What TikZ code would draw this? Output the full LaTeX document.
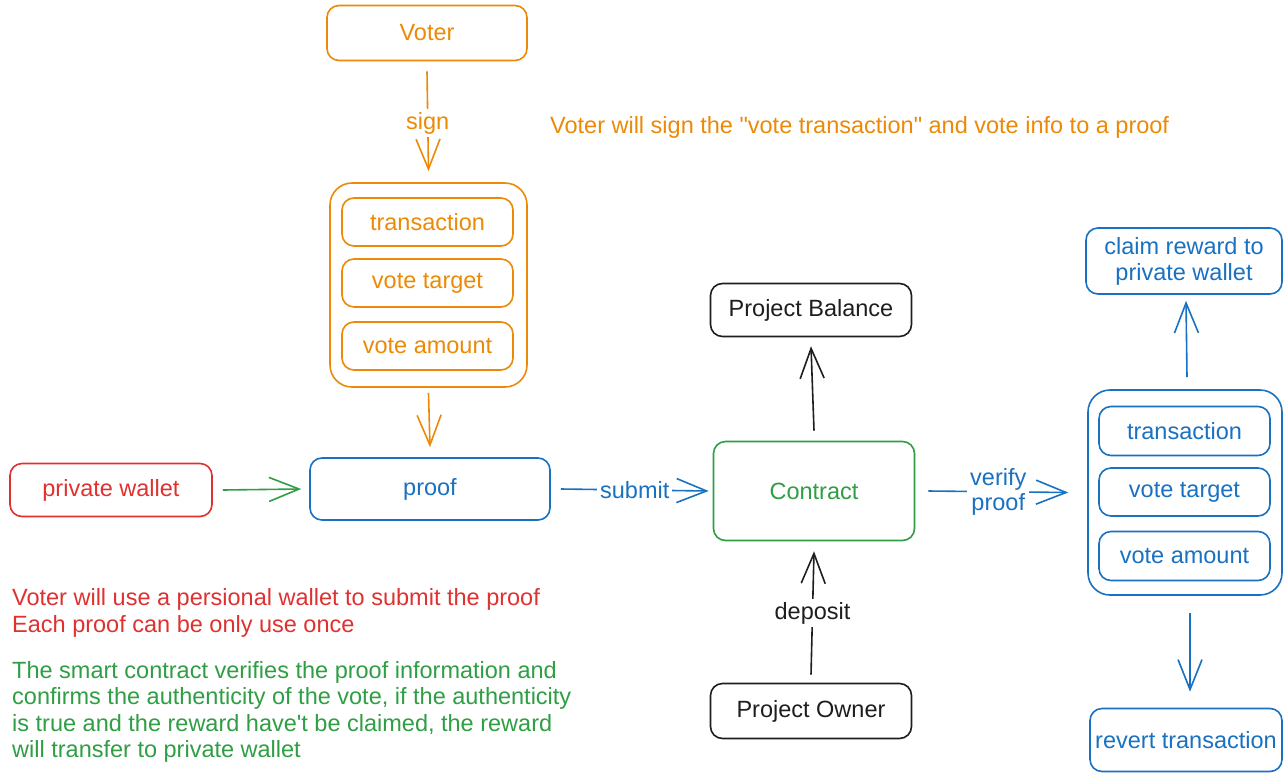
\documentclass[tikz,border=0pt]{standalone}
\usepackage{fontspec}
\setmainfont{Liberation Sans}[Ligatures=TeXOff]
\usetikzlibrary{arrows.meta}
\definecolor{orng}{HTML}{EC8A08}
\definecolor{blu}{HTML}{1971C2}
\definecolor{rd}{HTML}{E03131}
\definecolor{grn}{HTML}{2F9E44}
\definecolor{blk}{HTML}{1E1E1E}
\tikzset{
  box/.style={draw, rounded corners=12pt, line width=1.6pt, inner sep=0pt, align=center,
    font=\fontsize{23.5}{26}\selectfont},
  group/.style={draw, rounded corners=22pt, line width=1.6pt, inner sep=0pt},
  arr/.style={line width=1.6pt, -{Straight Barb[length=30pt,width=24pt,line width=1.6pt]}},
  lbl/.style={fill=white, inner sep=3pt, align=center, font=\fontsize{23.5}{25}\selectfont},
  note/.style={anchor=west, inner sep=0pt, align=left, font=\fontsize{23.5}{26.3}\selectfont}
}
\begin{document}
\begin{tikzpicture}[x=1pt,y=-1pt]
\useasboundingbox[fill=white] (0,0) rectangle (1284,774);

% orange part
\node[box, draw=orng, text=orng, minimum width=200pt, minimum height=55pt] (voter) at (427,33) {Voter};
\node[group, draw=orng, minimum width=197pt, minimum height=204pt] (gO) at (428.5,285) {};
\node[box, draw=orng, text=orng, minimum width=171pt, minimum height=48pt] (tO) at (427.5,222) {transaction};
\node[box, draw=orng, text=orng, minimum width=171pt, minimum height=48pt] (vtO) at (427.5,283) {vote target};
\node[box, draw=orng, text=orng, minimum width=171pt, minimum height=48pt] (vaO) at (427.5,346) {vote amount};
\node[note, text=orng] (noteO) at (550,127) {Voter will sign the "vote transaction" and vote info to a proof};

% proof row
\node[box, draw=rd, text=rd, minimum width=202pt, minimum height=53pt] (pw) at (111,490) {private wallet};
\node[box, draw=blu, text=blu, minimum width=240pt, minimum height=62pt] (proof) at (430,489) {proof};
\node[box, draw=grn, text=grn, minimum width=201pt, minimum height=99pt] (contract) at (814,491) {Contract};
\node[box, draw=blk, text=blk, minimum width=201pt, minimum height=53pt] (balance) at (811,310) {Project Balance};
\node[box, draw=blk, text=blk, minimum width=201pt, minimum height=55pt] (owner) at (811,711) {Project Owner};

% blue part
\node[group, draw=blu, minimum width=194pt, minimum height=205pt] (gB) at (1185,492.5) {};
\node[box, draw=blu, text=blu, minimum width=171pt, minimum height=49pt] (tB) at (1184.5,431) {transaction};
\node[box, draw=blu, text=blu, minimum width=171pt, minimum height=48pt] (vtB) at (1184.5,492) {vote target};
\node[box, draw=blu, text=blu, minimum width=171pt, minimum height=49pt] (vaB) at (1184.5,556) {vote amount};
\node[box, draw=blu, text=blu, minimum width=196pt, minimum height=66pt] (claim) at (1184,261) {claim reward to\\private wallet};
\node[box, draw=blu, text=blu, minimum width=192pt, minimum height=63pt] (revert) at (1186,740) {revert transaction};

% notes
\node[note, text=rd] (noteR) at (12,613) {Voter will use a persional wallet to submit the proof\\Each proof can be only use once};
\node[note, text=grn] (noteG) at (12,712) {The smart contract verifies the proof information and\\confirms the authenticity of the vote, if the authenticity\\is true and the reward have't be claimed, the reward\\will transfer to private wallet};

% connectors
\draw[arr, orng] ([yshift=-10pt]voter.south) -- node[lbl, text=orng, yshift=-2pt]{sign} ([yshift=11pt]gO.north);
\draw[arr, orng] ([yshift=-5pt]gO.south) -- ([yshift=10pt]proof.north);
\draw[arr, grn] ([xshift=10pt]pw.east) -- ([xshift=-8pt]proof.west);
\draw[arr, blu] ([xshift=10pt]proof.east) -- node[lbl, text=blu]{submit} ([xshift=-4pt]contract.west);
\draw[arr, blk] ([yshift=10pt]contract.north) -- ([yshift=-9pt]balance.south);
\draw[arr, blk] ([yshift=8pt]owner.north) -- node[lbl, text=blk]{deposit} ([yshift=-10pt]contract.south);
\draw[arr, blu] ([xshift=13pt]contract.east) -- node[lbl, text=blu]{verify\\proof} ([xshift=-19pt]gB.west);
\draw[arr, blu] ([xshift=2pt,yshift=12pt]gB.north) -- ([xshift=2pt,yshift=-6pt]claim.south);
\draw[arr, blu] ([xshift=5pt,yshift=-17pt]gB.south) -- ([xshift=4pt,yshift=16pt]revert.north);
\end{tikzpicture}
\end{document}
